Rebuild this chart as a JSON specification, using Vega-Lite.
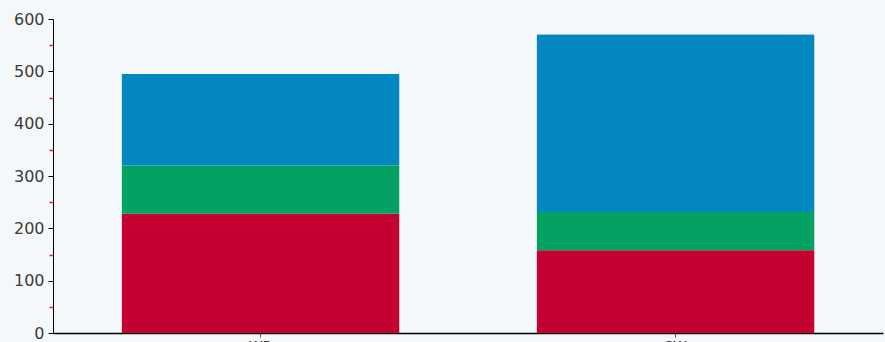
{
  "$schema": "https://vega.github.io/schema/vega-lite/v6.json",
  "width": 830,
  "height": 314,
  "autosize": "none",
  "padding": {"left": 53, "top": 19, "right": 2, "bottom": 9},
  "background": "#f4f8fa",
  "config": {"view": {"stroke": null}, "font": "DejaVu Sans"},
  "data": {
    "values": [
      {"group": "WB", "series": "Series 1", "value": 228},
      {"group": "WB", "series": "Series 2", "value": 92},
      {"group": "WB", "series": "Series 3", "value": 175},
      {"group": "SW", "series": "Series 1", "value": 158},
      {"group": "SW", "series": "Series 2", "value": 73},
      {"group": "SW", "series": "Series 3", "value": 340}
    ]
  },
  "mark": {"type": "bar", "cornerRadiusTopLeft": 1, "cornerRadiusTopRight": 1},
  "encoding": {
    "x": {
      "field": "group",
      "type": "nominal",
      "sort": ["WB", "SW"],
      "scale": {"paddingInner": 0.33, "paddingOuter": 0.165},
      "axis": {
        "title": null,
        "labelAngle": 0,
        "domainColor": "#000000",
        "domainWidth": 1.5,
        "tickColor": "#555555",
        "tickSize": 4,
        "labelPadding": 2,
        "labelFontSize": 14,
        "labelColor": "#3a3a3a"
      }
    },
    "y": {
      "field": "value",
      "type": "quantitative",
      "stack": "zero",
      "scale": {"domain": [0, 600], "nice": false},
      "axis": {
        "title": null,
        "grid": false,
        "values": [0, 50, 100, 150, 200, 250, 300, 350, 400, 450, 500, 550, 600],
        "labelExpr": "datum.value % 100 === 0 ? datum.label : ''",
        "domainColor": "#000000",
        "tickColor": {"condition": {"test": "datum.value % 100 !== 0", "value": "#ff1a1a"}, "value": "#000000"},
        "tickSize": {"condition": {"test": "datum.value % 100 !== 0", "value": 4}, "value": 5},
        "tickWidth": {"condition": {"test": "datum.value % 100 !== 0", "value": 1.5}, "value": 1},
        "labelPadding": 4,
        "labelFontSize": 16,
        "labelColor": "#3a3a3a"
      }
    },
    "color": {
      "field": "series",
      "type": "nominal",
      "scale": {"domain": ["Series 1", "Series 2", "Series 3"], "range": ["#c30232", "#03a262", "#0387c0"]},
      "legend": null
    },
    "order": {"field": "series", "sort": "ascending"}
  }
}
